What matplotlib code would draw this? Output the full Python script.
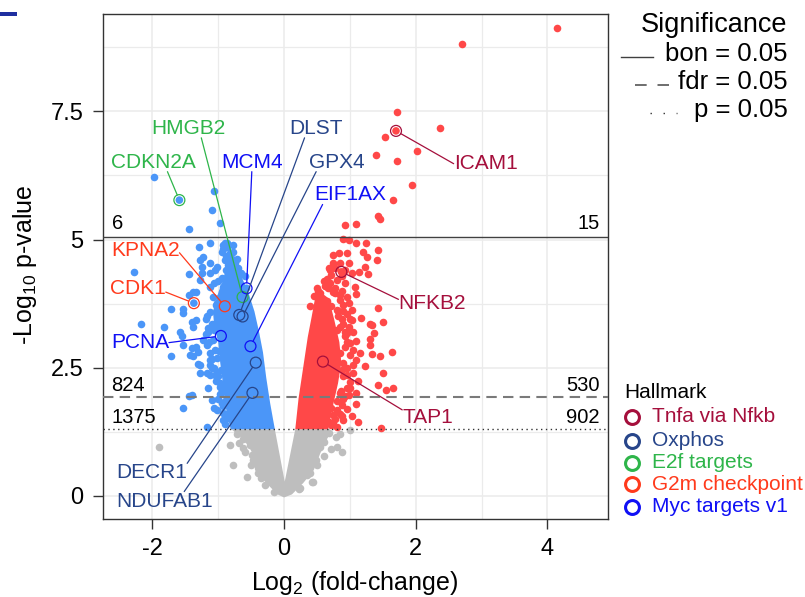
import matplotlib
matplotlib.use('Agg')
import matplotlib.pyplot as plt
from matplotlib.lines import Line2D
from matplotlib.patches import Polygon, Rectangle

plt.rcParams['font.family'] = ['Liberation Sans', 'DejaVu Sans']
plt.rcParams['mathtext.fontset'] = 'custom'
plt.rcParams['mathtext.rm'] = 'Liberation Sans'
plt.rcParams['mathtext.it'] = 'Liberation Sans:italic'
plt.rcParams['axes.unicode_minus'] = False

# thresholds (-log10 p)
bon_y = 5.06
fdr_y = 1.935
p_y = 1.301

# counts above each threshold (down, up)
n_bon = ['6', '15']
n_fdr = ['824', '530']
n_p = ['1375', '902']

# dense part of each cloud (outline of the packed points)
blue_core_x = [-0.88, -0.93, -0.99, -1.08, -1.06, -1.00, -0.97, -0.92, -0.87, -0.81,
               -0.14, -0.21, -0.27, -0.32, -0.38, -0.45, -0.55, -0.62, -0.70]
blue_core_y = [4.45, 4.20, 4.00, 3.60, 3.30, 3.00, 2.60, 2.10, 1.60, 1.30,
               1.30, 1.80, 2.30, 2.80, 3.20, 3.60, 4.00, 4.20, 4.45]
red_core_x = [0.17, 0.22, 0.29, 0.36, 0.42, 0.47, 0.56, 0.68, 0.76, 0.84, 0.87, 0.82, 0.75, 0.67]
red_core_y = [1.30, 1.90, 2.50, 3.10, 3.50, 3.85, 3.97, 3.85, 3.45, 3.00, 2.60, 2.20, 1.80, 1.30]
grey_core_x = [-0.80, -0.66, -0.57, -0.48, -0.44, -0.27, -0.10, 0.00, 0.12, 0.29, 0.45, 0.55,
               0.65, 0.70, 0.17, 0.01, -0.14]
grey_core_y = [1.30, 1.15, 1.05, 0.83, 0.50, 0.25, 0.03, -0.03, 0.03, 0.25, 0.50, 0.83,
               1.09, 1.30, 1.30, 0.28, 1.30]

# loose points
blue_x = [-1.98, -1.07, -1.09, -0.97, -1.44, -1.29, -1.12, -0.86, -0.77, -2.28, -1.45, -1.28,
          -1.25, -1.12, -1.02, -1.12, -1.28, -1.07, -1.38, -1.45, -1.71, -1.53, -2.18, -1.83,
          -1.58, -1.38, -1.33, -1.17, -1.53, -1.33, -1.71, -1.43, -1.53, -1.40, -1.55, -1.40,
          -1.28, -1.12, -1.45, -1.40, -1.53, -1.17, -1.10, -1.02, -0.97, -1.28, -1.12, -1.23,
          -1.07, -1.38, -1.30, -1.12, -1.02, -0.95, -0.95, -1.07, -0.92, -0.90, -0.95, -0.82,
          -1.23, -0.90, -1.05, -0.77, -1.25, -0.92, -1.12, -0.97, -0.72, -0.82, -0.67, -1.33,
          -1.30, -1.12, -1.05, -1.17, -1.00, -0.92, -0.85, -0.79, -0.74, -0.87, -1.02, -0.86,
          -0.80, -0.75, -0.70, -0.88, -0.82, -0.68, -0.95, -0.85, -0.78, -0.90, -0.93, -0.98,
          -1.03, -1.06, -1.10, -1.14, -1.16, -1.12, -1.04, -0.99, -0.96, -0.93, -0.89, -0.86,
          -0.84, -0.88, -1.00, -0.72, -0.66, -0.60, -0.93, -1.18, -1.08, -1.18, -1.10, -1.15,
          -1.08, -1.17, -1.02, -1.10, -1.05, -0.98, -1.15, -1.00, -0.93, -0.90]
blue_y = [6.22, 5.95, 5.57, 5.33, 5.20, 4.85, 4.93, 4.93, 4.89, 4.36, 4.32, 4.60,
          4.47, 4.54, 4.47, 4.34, 4.21, 4.15, 3.98, 3.92, 3.64, 3.64, 3.35, 3.29,
          3.20, 3.30, 3.43, 3.50, 2.94, 2.91, 2.72, 2.75, 3.56, 3.40, 3.11, 2.88,
          2.55, 2.36, 1.94, 1.97, 1.71, 1.35, 1.87, 1.68, 2.13, 2.39, 2.78, 3.04,
          3.24, 2.72, 2.57, 2.55, 2.39, 2.03, 1.81, 1.71, 1.48, 4.93, 4.76, 4.73,
          4.66, 4.60, 4.41, 4.34, 4.34, 4.08, 4.08, 3.88, 4.21, 4.02, 4.02, 3.98,
          2.81, 2.65, 2.85, 2.39, 2.33, 4.81, 4.60, 4.47, 3.95, 3.82, 3.76, 4.85,
          4.65, 4.55, 4.45, 4.40, 4.30, 4.30, 4.25, 4.50, 4.75, 1.40, 1.62, 1.98,
          2.25, 2.50, 2.68, 3.00, 3.28, 3.58, 3.72, 2.82, 2.45, 2.15, 1.85, 1.52,
          4.58, 4.68, 4.20, 4.62, 4.35, 4.28, 4.90, 3.15, 3.88, 3.45, 3.35, 3.20,
          3.05, 2.95, 2.70, 2.50, 2.35, 2.20, 2.10, 1.90, 1.75, 1.60]

red_x = [4.15, 2.70, 2.37, 2.02, 1.95, 1.71, 1.53, 1.71, 1.40, 1.65, 1.43, 1.46, 0.92, 1.09,
         0.90, 0.98, 1.24, 1.09, 0.75, 0.83, 0.95, 1.20, 1.26, 1.41, 1.42, 0.75, 0.98, 0.70,
         1.03, 1.14, 1.28, 1.23, 0.65, 0.80, 0.93, 1.08, 0.67, 0.75, 1.10, 0.57, 0.85, 0.60,
         0.98, 1.42, 0.80, 1.03, 1.17, 1.00, 1.51, 1.33, 0.85, 0.95, 1.30, 1.10, 1.64, 1.31,
         1.16, 1.00, 1.46, 1.31, 1.36, 1.33, 1.23, 1.05, 1.50, 1.42, 1.55, 1.65, 0.98, 1.00,
         0.90, 0.88, 1.03, 0.72, 1.47, 0.90, 0.78, 1.00, 0.93, 1.03, 0.80, 0.85, 1.10, 0.62,
         0.55, 0.72, 0.88, 0.90, 0.88, 0.92, 0.90, 0.88, 0.95, 0.85, 0.80, 0.75, 0.85, 0.68,
         0.92, 0.95, 0.90, 0.86, 0.80, 0.74, 0.72, 0.82, 0.78, 0.50, 0.45, 0.40,
         0.52, 0.60, 0.68, 0.78, 0.85, 0.92, 0.88, 0.70, 0.78, 0.85, 0.95, 0.65, 0.72, 0.90,
         0.95, 0.82, 0.90, 0.98, 1.05, 0.95, 1.05, 1.10, 0.95, 1.05, 1.12, 1.00, 0.92, 1.10,
         0.95, 0.88, 0.80, 1.12]
red_y = [9.13, 8.82, 7.17, 6.73, 6.06, 7.48, 7.00, 6.54, 6.65, 5.78, 5.46, 5.41, 5.28, 5.30,
         5.02, 4.99, 4.93, 4.93, 4.70, 4.73, 4.73, 4.76, 4.66, 4.61, 4.80, 4.54, 4.54, 4.41,
         4.34, 4.37, 4.33, 4.47, 4.24, 4.21, 4.15, 4.08, 4.05, 3.98, 3.94, 3.85, 3.82, 3.69,
         3.76, 3.67, 3.63, 3.63, 3.48, 3.46, 3.39, 3.33, 3.30, 3.17, 3.07, 3.03, 2.81, 2.94,
         2.78, 2.75, 2.72, 3.35, 3.17, 2.77, 2.54, 2.55, 2.39, 2.16, 2.07, 2.11, 1.97, 2.23,
         2.33, 1.77, 1.56, 1.71, 1.33, 1.48, 1.51, 2.98, 3.11, 3.43, 3.24, 2.78, 2.00, 4.10,
         3.95, 4.30, 4.00, 3.60, 3.45, 2.90, 2.60, 2.45, 2.10, 2.00, 1.85, 1.40, 1.60, 1.45,
         3.20, 2.35, 1.90, 2.05, 1.68, 1.58, 1.38, 3.60, 3.95, 4.05, 3.90, 3.70,
         4.00, 4.20, 4.45, 4.45, 4.55, 4.40, 4.28, 4.15, 4.05, 3.92, 3.88, 3.80, 3.70, 3.72,
         3.55, 3.50, 3.35, 3.30, 3.20, 3.00, 2.85, 2.65, 2.50, 2.40, 2.25, 2.10, 1.95, 1.80,
         1.70, 1.55, 1.35, 1.45]

grey_x = [-1.90, -0.82, -0.77, -0.69, -0.62, -0.59, -0.49, -0.56, -0.29, -0.16, 0.44, 0.23,
          0.79, 0.80, 0.71, 0.60, 0.88, 1.00, 0.42, 0.24, -0.72, -0.55, -0.50, -0.35, 0.50,
          0.35, 0.62, 0.85, -0.45, -0.70, -0.62, -0.52, -0.47, -0.40, 0.60, 0.55, 0.48,
          0.40, 0.68]
grey_y = [0.96, 0.99, 0.60, 1.03, 0.93, 0.86, 0.80, 0.36, 0.21, 0.08, 0.28, 0.13,
          1.14, 0.96, 0.91, 0.77, 0.86, 1.29, 0.28, 0.15, 1.20, 1.10, 0.60, 0.35, 0.60,
          0.40, 1.20, 1.20, 0.95, 1.25, 1.12, 1.00, 0.70, 0.45, 1.05, 0.95, 0.70,
          0.45, 1.22]

# labelled genes
genes = ['CDKN2A', 'HMGB2', 'MCM4', 'DLST', 'GPX4', 'EIF1AX', 'KPNA2', 'CDK1', 'PCNA',
         'DECR1', 'NDUFAB1', 'ICAM1', 'NFKB2', 'TAP1']
gene_x = [-1.59, -0.63, -0.57, -0.68, -0.63, -0.51, -0.90, -1.37, -0.96, -0.43, -0.48, 1.70, 0.87, 0.59]
gene_y = [5.77, 3.88, 4.05, 3.53, 3.50, 2.92, 3.70, 3.76, 3.12, 2.60, 2.01, 7.12, 4.37, 2.62]
gene_set = ['E2f targets', 'E2f targets', 'Myc targets v1', 'Oxphos', 'Oxphos', 'Myc targets v1',
            'G2m checkpoint', 'G2m checkpoint', 'Myc targets v1', 'Oxphos', 'Oxphos',
            'Tnfa via Nfkb', 'Tnfa via Nfkb', 'Tnfa via Nfkb']
label_x = [-1.99, -1.46, -0.49, 0.49, 0.80, 1.00, -2.11, -2.22, -2.19, -2.01, -1.81, 3.06, 2.25, 2.18]
label_y = [6.51, 7.17, 6.51, 7.17, 6.51, 5.87, 4.78, 4.05, 2.99, 0.45, -0.10, 6.48, 3.76, 1.53]
label_rel = [(0.67, 0), (0.68, 0), (0.5, 0), (0.28, 0), (0.13, 0), (0.12, 0), (1, 0.4), (1, 0.3),
             (1, 0.5), (1, 1), (0.7, 1), (0, 0.5), (0, 0.7), (0, 0.9)]

hallmarks = ['Tnfa via Nfkb', 'Oxphos', 'E2f targets', 'G2m checkpoint', 'Myc targets v1']
hallmark_cols = ['#A50F3C', '#27458A', '#2EB54A', '#FF3A1C', '#1010F5']
hcol = dict(zip(hallmarks, hallmark_cols))

blue = '#4B96F8'
red = '#FF4848'
grey = '#BEBEBE'
dot = 30

fig = plt.figure(figsize=(8.05, 5.97), dpi=100)
ax = fig.add_axes([103 / 805, 1 - 519 / 597, 505 / 805, 505 / 597])

ax.add_patch(Polygon(list(zip(grey_core_x, grey_core_y)), closed=True, fc=grey, lw=0, zorder=2))
ax.scatter(grey_x, grey_y, s=dot, c=grey, lw=0, zorder=2)
ax.add_patch(Polygon(list(zip(blue_core_x, blue_core_y)), closed=True, fc=blue, lw=0, zorder=3))
ax.scatter(blue_x, blue_y, s=dot, c=blue, lw=0, zorder=3)
ax.add_patch(Polygon(list(zip(red_core_x, red_core_y)), closed=True, fc=red, lw=0, zorder=3))
ax.scatter(red_x, red_y, s=dot, c=red, lw=0, zorder=3)

dot_cols = [blue if x < 0 else red for x in gene_x]
ax.scatter(gene_x, gene_y, s=dot, c=dot_cols, lw=0, zorder=4)
ax.scatter(gene_x, gene_y, s=62, facecolors='none',
           edgecolors=[hcol[g] for g in gene_set], linewidths=0.9, zorder=5)

ax.axhline(bon_y, color='#404040', lw=1.0, zorder=4)
ax.axhline(fdr_y, color='#7a7a7a', lw=1.5, ls=(0, (5, 3)), zorder=4)
ax.axhline(p_y, color='#333333', lw=1.0, ls=(0, (1, 2.5)), zorder=4)

ax.text(-2.62, 5.20, n_bon[0], fontsize=14.5, ha='left', va='baseline')
ax.text(4.79, 5.20, n_bon[1], fontsize=14.5, ha='right', va='baseline')
ax.text(-2.62, 2.05, n_fdr[0], fontsize=14.5, ha='left', va='baseline')
ax.text(4.79, 2.05, n_fdr[1], fontsize=14.5, ha='right', va='baseline')
ax.text(-2.62, 1.43, n_p[0], fontsize=14.5, ha='left', va='baseline')
ax.text(4.79, 1.43, n_p[1], fontsize=14.5, ha='right', va='baseline')

for i in range(len(genes)):
    c = hcol[gene_set[i]]
    ax.annotate(genes[i], xy=(gene_x[i], gene_y[i]), xytext=(label_x[i], label_y[i]),
                textcoords='data', ha='center', va='center', fontsize=15, color=c, zorder=6,
                arrowprops=dict(arrowstyle='-', color=c, lw=0.9, shrinkA=0, shrinkB=4.0,
                                relpos=label_rel[i], patchA=None))

ax.set_xlim(-2.75, 4.92)
ax.set_ylim(-0.45, 9.40)
ax.set_xticks([-2, 0, 2, 4])
ax.set_xticklabels(['-2', '0', '2', '4'])
ax.set_xticks([-1, 1, 3], minor=True)
ax.set_yticks([0, 2.5, 5, 7.5])
ax.set_yticklabels(['0', '2.5', '5', '7.5'])
ax.set_yticks([1.25, 3.75, 6.25, 8.75], minor=True)
ax.grid(which='major', color='#EBEBEB', lw=1.1, zorder=0)
ax.grid(which='minor', color='#EBEBEB', lw=0.9, zorder=0)
ax.set_axisbelow(True)
ax.tick_params(which='major', length=7, width=1.0, color='#333333', pad=7, labelsize=17)
ax.tick_params(which='minor', length=0)
for sp in ax.spines.values():
    sp.set_color('#333333')
    sp.set_linewidth(1.0)

fig.text(355 / 805, 1 - 590 / 597, r'Log$_{2}$ (fold-change)', fontsize=18,
         ha='center', va='baseline')
fig.text(32 / 805, 1 - 265 / 597, r'-Log$_{10}$ p-value', fontsize=18, rotation=90,
         rotation_mode='anchor', ha='center', va='baseline')

# significance legend
fig.text(787.7 / 805, 1 - 25 / 597, 'Significance', fontsize=19.5, ha='right', va='center')
sig_labels = ['bon = 0.05', 'fdr = 0.05', 'p = 0.05']
sig_y = [54.3, 81.7, 110]
sig_line = [(620.7, 653.3, 57.3, '-', '#404040', 1.0),
            (635, 669, 85, (0, (7, 6.5)), '#555555', 1.2),
            (650, 677, 112.7, (0, (1, 8.4)), '#333333', 1.0)]
for lab, yy, (x0, x1, ly, ls, lc, lw) in zip(sig_labels, sig_y, sig_line):
    fig.text(787.7 / 805, 1 - yy / 597, lab, fontsize=18.5, ha='right', va='center')
    fig.add_artist(Line2D([x0 / 805, x1 / 805], [1 - ly / 597, 1 - ly / 597], color=lc, lw=lw,
                          ls=ls, transform=fig.transFigure))

# hallmark legend
fig.text(624 / 805, 1 - 393 / 597, 'Hallmark', fontsize=15, ha='left', va='center')
hall_y = [417, 440.7, 462.7, 484.3, 506.7]
for lab, c, yy in zip(hallmarks, hallmark_cols, hall_y):
    fig.add_artist(Line2D([631.7 / 805], [1 - yy / 597], marker='o', ms=10, mfc='none', mec=c,
                          mew=2.2, transform=fig.transFigure))
    fig.text(651.7 / 805, 1 - yy / 597, lab, fontsize=15, color=c, ha='left', va='center')

fig.add_artist(Rectangle((0, 1 - 16 / 597), 16.5 / 805, 3.5 / 597, color='#1F2FA0',
                         transform=fig.transFigure, lw=0))

fig.savefig('out.png', dpi=100)
